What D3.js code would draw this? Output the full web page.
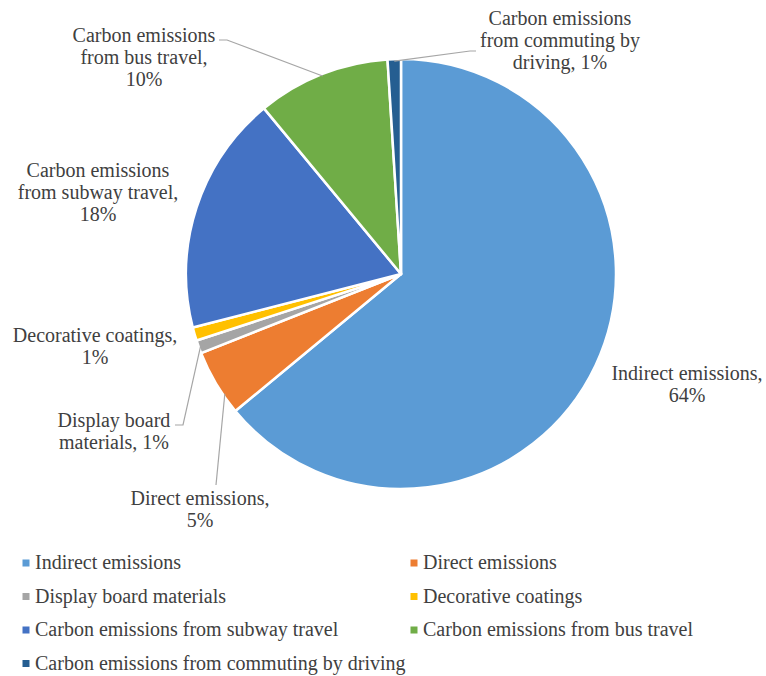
<!DOCTYPE html>
<html>
<head>
<meta charset="utf-8">
<script src="https://cdn.jsdelivr.net/npm/d3@7"></script>
<style>
  html, body { margin: 0; padding: 0; background: #fff; }
  svg { display: block; }
  text { font-family: "Liberation Serif", "Times New Roman", serif; fill: #404040; }
</style>
</head>
<body>
<svg id="chart" width="766" height="676"></svg>
<script>
// Share of carbon emissions by source (%)
const categories = [
  "Indirect emissions",
  "Direct emissions",
  "Display board materials",
  "Decorative coatings",
  "Carbon emissions from subway travel",
  "Carbon emissions from bus travel",
  "Carbon emissions from commuting by driving"
];
const values = [64, 5, 1, 1, 18, 10, 1];
const colors = ["#5B9BD5", "#ED7D31", "#A5A5A5", "#FFC000", "#4472C4", "#70AD47", "#255E91"];

// Data label text lines (category name wrapped, then value)
const labelLines = [
  ["Indirect emissions,", "{v}"],
  ["Direct emissions,", "{v}"],
  ["Display board", "materials, {v}"],
  ["Decorative coatings,", "{v}"],
  ["Carbon emissions", "from subway travel,", "{v}"],
  ["Carbon emissions", "from bus travel,", "{v}"],
  ["Carbon emissions", "from commuting by", "driving, {v}"]
];

// Label placement: centre x, first baseline y; leader = path points after the slice rim
const labelLayout = [
  { x: 687, y: 380, leader: null },
  { x: 200, y: 505, leader: { tip: 0.3, pts: [[216, 485]] } },
  { x: 114, y: 427, leader: { tip: 0.5, pts: [[183, 425], [175, 425]] } },
  { x: 95,  y: 342, leader: null },
  { x: 98,  y: 177, leader: null },
  { x: 144, y: 42,  leader: { tip: 0.5, pts: [[227, 40], [219, 40]] } },
  { x: 560, y: 25,  leader: { tip: 0.5, pts: [[470, 51], [476, 51]] } }
];

const svg = d3.select("#chart");
const cx = 401, cy = 274, radius = 215;
const total = d3.sum(values);
const fmt = v => d3.format(".0%")(v / total);

const pie = d3.pie().sort(null).value(d => d.value);
const arc = d3.arc().innerRadius(0).outerRadius(radius);

const data = categories.map((c, i) => ({ name: c, value: values[i], color: colors[i], i }));
const arcs = pie(data);

const g = svg.append("g").attr("transform", `translate(${cx},${cy})`);
g.selectAll("path.slice")
  .data(arcs)
  .join("path")
  .attr("class", "slice")
  .attr("d", arc)
  .attr("fill", d => d.data.color)
  .attr("stroke", "#fff")
  .attr("stroke-width", 2.5)
  .attr("stroke-linejoin", "round");

// Leader lines from the slice rim to the labels
const leaderLine = d3.line();
arcs.forEach((a, i) => {
  const L = labelLayout[i].leader;
  if (!L) return;
  const ang = a.startAngle + (a.endAngle - a.startAngle) * L.tip;
  const rim = [cx + (radius - 2) * Math.sin(ang), cy - (radius - 2) * Math.cos(ang)];
  svg.append("path")
    .attr("d", leaderLine([rim, ...L.pts]))
    .attr("fill", "none")
    .attr("stroke", "#A6A6A6")
    .attr("stroke-width", 1.2);
});

// Data labels
const fontSize = 20, lineH = 22;
arcs.forEach((a, i) => {
  const lay = labelLayout[i];
  const t = svg.append("text")
    .attr("text-anchor", "middle")
    .attr("font-size", fontSize);
  labelLines[i].forEach((ln, k) => {
    t.append("tspan")
      .attr("x", lay.x)
      .attr("y", lay.y + k * lineH)
      .text(ln.replace("{v}", fmt(a.data.value)));
  });
});

// Legend: two columns
const legend = svg.append("g");
const colX = [26, 414], rowY0 = 563, rowH = 33.5;
data.forEach((d, i) => {
  const col = i % 2, row = Math.floor(i / 2);
  const x = colX[col], y = rowY0 + row * rowH;
  legend.append("rect")
    .attr("x", x - 3.5).attr("y", y - 3.5)
    .attr("width", 7).attr("height", 7)
    .attr("fill", d.color);
  legend.append("text")
    .attr("x", x + 9).attr("y", y + 6)
    .attr("font-size", fontSize)
    .text(d.name);
});
</script>
</body>
</html>
